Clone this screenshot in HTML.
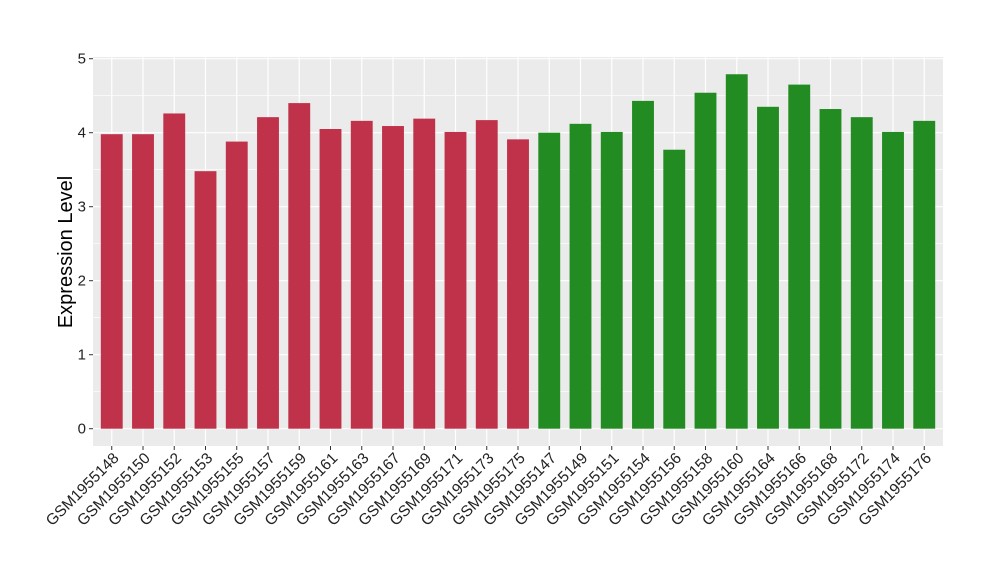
<!DOCTYPE html>
<html><head><meta charset="utf-8"><style>body{margin:0;background:#fff}svg{display:block}text{font-family:"Liberation Sans",sans-serif}</style></head>
<body>
<svg id="s" width="1000" height="580" xmlns="http://www.w3.org/2000/svg">
<rect x="93" y="57" width="850" height="389" fill="#EBEBEB"/>
<g id="grid"></g><g id="bars"></g><g id="lab"></g>
<text x="0" y="0" font-size="20" text-anchor="middle" transform="translate(72,252) rotate(-90)">Expression Level</text>
</svg>
<script>
const ns="http://www.w3.org/2000/svg";
const names=["GSM1955148","GSM1955150","GSM1955152","GSM1955153","GSM1955155","GSM1955157","GSM1955159","GSM1955161","GSM1955163","GSM1955167","GSM1955169","GSM1955171","GSM1955173","GSM1955175","GSM1955147","GSM1955149","GSM1955151","GSM1955154","GSM1955156","GSM1955158","GSM1955160","GSM1955164","GSM1955166","GSM1955168","GSM1955172","GSM1955174","GSM1955176"];
const vals=[3.98,3.98,4.26,3.48,3.88,4.21,4.40,4.05,4.16,4.09,4.19,4.01,4.17,3.91,4.0,4.12,4.01,4.43,3.77,4.54,4.79,4.35,4.65,4.32,4.21,4.01,4.16];
const Y=v=>428.7-74*v;
function el(p,t,a,txt){const e=document.createElementNS(ns,t);for(const k in a)e.setAttribute(k,a[k]);if(txt!==undefined)e.textContent=txt;document.getElementById(p).appendChild(e);return e;}
for(let v=0.5;v<5;v+=1)el("grid","line",{x1:93,x2:943,y1:Y(v),y2:Y(v),stroke:"#fff","stroke-width":0.6});
for(let v=0;v<=5;v++){el("grid","line",{x1:93,x2:943,y1:Y(v),y2:Y(v),stroke:"#fff","stroke-width":1.2});
el("lab","line",{x1:89,x2:93,y1:Y(v),y2:Y(v),stroke:"#333","stroke-width":1});
el("lab","text",{x:86,y:Y(v)+5,"font-size":15,"text-anchor":"end",fill:"#222"},String(v));}
const sp=850/27.2;
names.forEach((n,i)=>{const cx=93+0.6*sp+i*sp;
el("grid","line",{x1:cx,x2:cx,y1:57,y2:446,stroke:"#fff","stroke-width":1.2});
const w=0.7*sp;
el("bars","rect",{x:cx-w/2,y:Y(vals[i]),width:w,height:Y(0)-Y(vals[i]),fill:i<14?"#C0314A":"#228B22"});
el("lab","line",{x1:cx,x2:cx,y1:446,y2:450,stroke:"#333","stroke-width":1});
el("lab","text",{x:0,y:0,"font-size":15.5,"text-anchor":"end",fill:"#222",transform:`translate(${cx+8},${459}) rotate(-45)`},n);});
</script>
</body></html>
